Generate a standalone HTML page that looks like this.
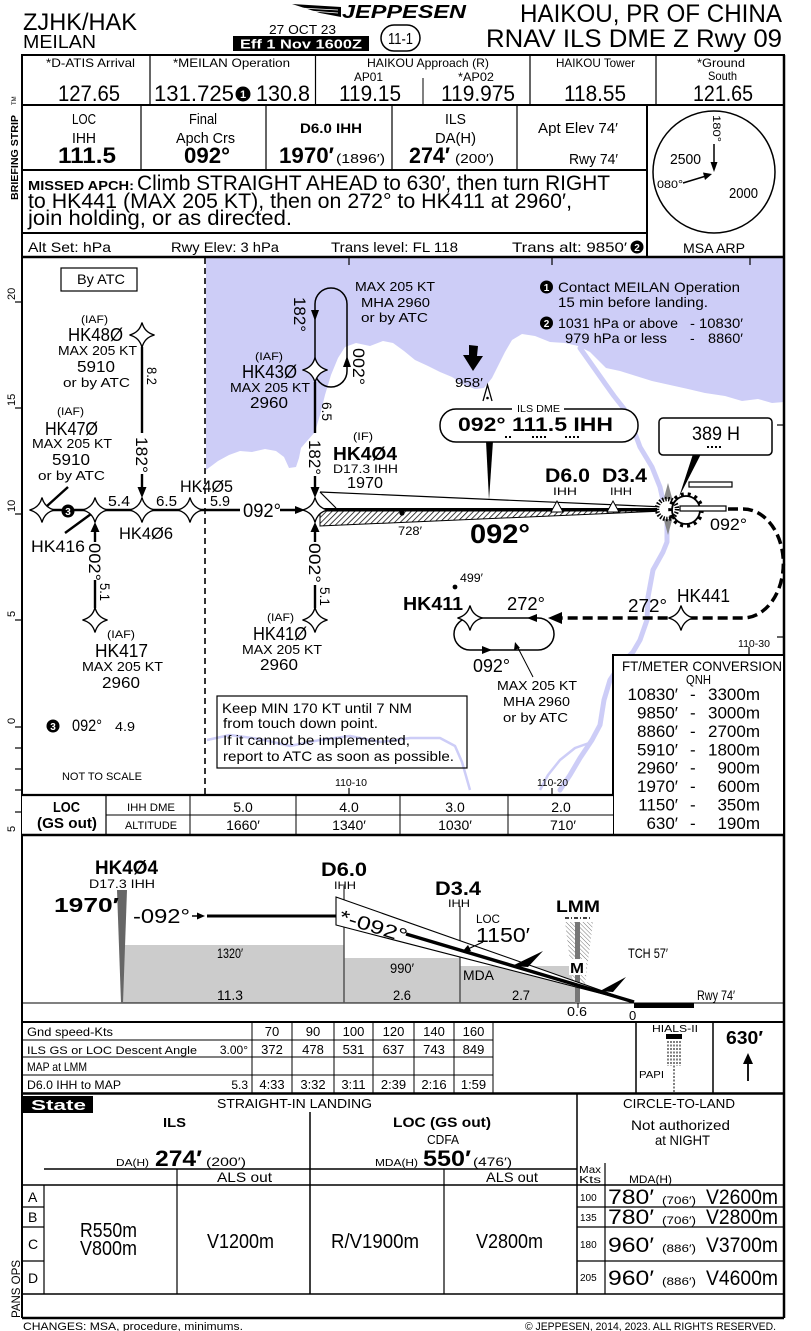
<!DOCTYPE html>
<html><head><meta charset="utf-8"><style>
html,body{margin:0;padding:0;background:#fff;}
svg{display:block;font-family:"Liberation Sans",sans-serif;}
.b{font-weight:bold;}
</style></head><body>
<svg width="811" height="1331" viewBox="0 0 811 1331" xmlns="http://www.w3.org/2000/svg">
<defs>
<pattern id="h" width="4" height="4" patternUnits="userSpaceOnUse" patternTransform="rotate(45)"><rect width="4" height="4" fill="#fff"/><line x1="0" y1="0" x2="0" y2="4" stroke="#000" stroke-width="1.5"/></pattern>
<pattern id="hg" width="3" height="3" patternUnits="userSpaceOnUse" patternTransform="rotate(-45)"><rect width="3" height="3" fill="#fff"/><line x1="0" y1="0" x2="0" y2="3" stroke="#777" stroke-width="1"/></pattern>
<path id="st" d="M0,-12.5 Q2.5,-2.5 12.5,0 Q2.5,2.5 0,12.5 Q-2.5,2.5 -12.5,0 Q-2.5,-2.5 0,-12.5Z" fill="#fff" stroke="#000" stroke-width="1.4"/>
</defs>

<!-- HEADER -->
<text x="23" y="30" font-size="24" textLength="114" lengthAdjust="spacingAndGlyphs">ZJHK/HAK</text>
<text x="23" y="48" font-size="18" textLength="73" lengthAdjust="spacingAndGlyphs">MEILAN</text>
<text x="269" y="34" font-size="13" textLength="67" lengthAdjust="spacingAndGlyphs">27 OCT 23</text>
<rect x="233" y="36" width="136" height="15" fill="#000"/>
<text x="240" y="48.5" font-size="12.5" class="b" fill="#fff" textLength="122" lengthAdjust="spacingAndGlyphs">Eff 1 Nov 1600Z</text>
<rect x="381" y="25" width="39" height="26" rx="13" fill="#fff" stroke="#000" stroke-width="1.5"/>
<text x="388" y="44" font-size="16" textLength="25" lengthAdjust="spacingAndGlyphs">11-1</text>
<polygon points="292,4 341,7 341,17 320,13" fill="#000"/>
<line x1="300" y1="8" x2="338" y2="10" stroke="#fff" stroke-width="0.8"/>
<line x1="310" y1="11" x2="338" y2="13" stroke="#fff" stroke-width="0.8"/>
<text x="342" y="18" font-size="18" class="b" font-style="italic" textLength="124" lengthAdjust="spacingAndGlyphs">JEPPESEN</text>
<text x="520" y="22" font-size="25" textLength="262" lengthAdjust="spacingAndGlyphs">HAIKOU, PR OF CHINA</text>
<text x="486" y="47" font-size="25" textLength="296" lengthAdjust="spacingAndGlyphs">RNAV ILS DME Z Rwy 09</text>

<!-- BRIEFING STRIP -->
<g stroke="#000" fill="none">
<rect x="22" y="55" width="762" height="202" stroke-width="2"/>
<line x1="22" y1="105" x2="784" y2="105" stroke-width="2"/>
<line x1="150" y1="55" x2="150" y2="105" stroke-width="1.2"/>
<line x1="315.5" y1="55" x2="315.5" y2="105" stroke-width="1.2"/>
<line x1="423" y1="78" x2="423" y2="105" stroke-width="1"/>
<line x1="530" y1="55" x2="530" y2="105" stroke-width="1.2"/>
<line x1="656" y1="55" x2="656" y2="105" stroke-width="1.2"/>
<line x1="22" y1="170" x2="647" y2="170" stroke-width="2"/>
<line x1="141" y1="105" x2="141" y2="170" stroke-width="1.2"/>
<line x1="266" y1="105" x2="266" y2="170" stroke-width="1.2"/>
<line x1="392" y1="105" x2="392" y2="170" stroke-width="1.2"/>
<line x1="517" y1="105" x2="517" y2="170" stroke-width="1.2"/>
<line x1="647" y1="105" x2="647" y2="257" stroke-width="2"/>
<line x1="22" y1="233" x2="647" y2="233" stroke-width="2"/>
</g>
<g font-size="12">
<text x="46" y="67" textLength="89" lengthAdjust="spacingAndGlyphs">*D-ATIS Arrival</text>
<text x="173" y="67" textLength="117" lengthAdjust="spacingAndGlyphs">*MEILAN Operation</text>
<text x="367" y="67" textLength="122" lengthAdjust="spacingAndGlyphs">HAIKOU Approach (R)</text>
<text x="354" y="81" textLength="29" lengthAdjust="spacingAndGlyphs">AP01</text>
<text x="458" y="81" textLength="36" lengthAdjust="spacingAndGlyphs">*AP02</text>
<text x="556" y="67" textLength="79" lengthAdjust="spacingAndGlyphs">HAIKOU Tower</text>
<text x="697" y="67" textLength="48" lengthAdjust="spacingAndGlyphs">*Ground</text>
<text x="708" y="80" textLength="29" lengthAdjust="spacingAndGlyphs">South</text>
</g>
<g font-size="22">
<text x="58" y="101" textLength="62" lengthAdjust="spacingAndGlyphs">127.65</text>
<text x="154" y="101" textLength="80" lengthAdjust="spacingAndGlyphs">131.725</text>
<text x="256" y="101" textLength="54" lengthAdjust="spacingAndGlyphs">130.8</text>
<text x="339" y="101" textLength="62" lengthAdjust="spacingAndGlyphs">119.15</text>
<text x="441" y="101" textLength="74" lengthAdjust="spacingAndGlyphs">119.975</text>
<text x="564" y="101" textLength="62" lengthAdjust="spacingAndGlyphs">118.55</text>
<text x="693" y="101" textLength="60" lengthAdjust="spacingAndGlyphs">121.65</text>
</g>
<circle cx="243" cy="94" r="7.5" fill="#000"/>
<text x="243" y="98" font-size="11" class="b" fill="#fff" text-anchor="middle">1</text>

<g font-size="15">
<text x="72" y="124" textLength="24" lengthAdjust="spacingAndGlyphs">LOC</text>
<text x="72" y="143" textLength="24" lengthAdjust="spacingAndGlyphs">IHH</text>
<text x="189" y="124" textLength="28" lengthAdjust="spacingAndGlyphs">Final</text>
<text x="176" y="143" textLength="59" lengthAdjust="spacingAndGlyphs">Apch Crs</text>
<text x="445" y="124" textLength="21" lengthAdjust="spacingAndGlyphs">ILS</text>
<text x="435" y="143" textLength="41" lengthAdjust="spacingAndGlyphs">DA(H)</text>
<text x="538" y="133" textLength="80" lengthAdjust="spacingAndGlyphs">Apt Elev 74′</text>
<text x="569" y="164" textLength="49" lengthAdjust="spacingAndGlyphs">Rwy 74′</text>
</g>
<text x="300" y="133" font-size="14" class="b" textLength="62" lengthAdjust="spacingAndGlyphs">D6.0 IHH</text>
<g font-size="22" class="b">
<text x="58" y="163" textLength="58" lengthAdjust="spacingAndGlyphs">111.5</text>
<text x="184" y="163" textLength="46" lengthAdjust="spacingAndGlyphs">092°</text>
<text x="279" y="163" textLength="55" lengthAdjust="spacingAndGlyphs">1970′</text>
<text x="409" y="163" textLength="41" lengthAdjust="spacingAndGlyphs">274′</text>
</g>
<text x="336" y="163" font-size="13" textLength="49" lengthAdjust="spacingAndGlyphs">(1896′)</text>
<text x="455" y="163" font-size="13" textLength="39" lengthAdjust="spacingAndGlyphs">(200′)</text>

<text x="28" y="190" font-size="13" class="b" textLength="106" lengthAdjust="spacingAndGlyphs">MISSED APCH:</text>
<text x="137" y="190" font-size="21" textLength="473" lengthAdjust="spacingAndGlyphs">Climb STRAIGHT AHEAD to 630′, then turn RIGHT</text>
<text x="28" y="208" font-size="21" textLength="544" lengthAdjust="spacingAndGlyphs">to HK441 (MAX 205 KT), then on 272° to HK411 at 2960′,</text>
<text x="28" y="225" font-size="21" textLength="264" lengthAdjust="spacingAndGlyphs">join holding, or as directed.</text>

<g font-size="14">
<text x="28" y="252" textLength="83" lengthAdjust="spacingAndGlyphs">Alt Set: hPa</text>
<text x="171" y="252" textLength="108" lengthAdjust="spacingAndGlyphs">Rwy Elev: 3 hPa</text>
<text x="331" y="252" textLength="127" lengthAdjust="spacingAndGlyphs">Trans level: FL 118</text>
<text x="512" y="252" textLength="115" lengthAdjust="spacingAndGlyphs">Trans alt: 9850′</text>
</g>
<circle cx="637" cy="247" r="6.5" fill="#000"/>
<text x="637" y="251" font-size="10" class="b" fill="#fff" text-anchor="middle">2</text>

<!-- MSA -->
<circle cx="714" cy="172" r="61" fill="none" stroke="#000" stroke-width="1.5"/>
<text transform="translate(713,115) rotate(90)" font-size="11" textLength="27" lengthAdjust="spacingAndGlyphs">180°</text>
<line x1="714" y1="144" x2="714" y2="164" stroke="#000" stroke-width="1.5"/>
<polygon points="710.5,162 717.5,162 714,172" fill="#000"/>
<line x1="683" y1="183" x2="706" y2="176" stroke="#000" stroke-width="1.5"/>
<polygon points="712,174 703,172.5 705,180" fill="#000"/>
<text x="657" y="188" font-size="11" textLength="26" lengthAdjust="spacingAndGlyphs">080°</text>
<text x="670" y="164" font-size="15" textLength="31" lengthAdjust="spacingAndGlyphs">2500</text>
<text x="729" y="198" font-size="15" textLength="29" lengthAdjust="spacingAndGlyphs">2000</text>
<text x="683" y="253" font-size="14" textLength="62" lengthAdjust="spacingAndGlyphs">MSA ARP</text>
<text transform="translate(18,200) rotate(-90)" font-size="10.5" class="b" textLength="85" lengthAdjust="spacingAndGlyphs">BRIEFING STRIP</text>
<text transform="translate(16,105) rotate(-90)" font-size="6">TM</text>

<!-- PLAN VIEW -->
<polygon fill="#cdcdf7" points="206,258 784,258 784,402 772,403 758,399 742,401 725,396 705,393 688,389 670,385 652,381 636,376 620,371 606,368 598,360 590,352 578,346 565,343 550,342 535,336 522,334 512,340 505,352 499,364 492,378 484,388 475,389 463,384 452,377 440,372 428,366 415,360 404,351 393,343 383,341 370,346 356,343 345,347 338,358 331,375 325,395 320,415 315,432 307,441 301,448 299,458 296,467 289,468 284,457 276,451 265,449 252,452 240,451 229,455 218,461 210,467 206,470"/>
<polyline fill="none" stroke="#cdcdf7" stroke-width="5" stroke-linejoin="round" stroke-linecap="round" points="580,348 592,365 604,382 614,396 625,410 633,428 640,447 652,467 660,487 664,505 667,522 667,542 663,552 653,570 648,597 647,620 640,640 633,652 620,665 610,680 604,700 600,725 592,740 580,758 570,775 560,790"/>
<polyline fill="none" stroke="#cdcdf7" stroke-width="2.5" stroke-linejoin="round" points="207,740 230,735 260,739 290,746 320,740 350,736 380,742 410,738 440,738 455,746 462,762 470,790"/>
<polyline fill="none" stroke="#cdcdf7" stroke-width="2.5" stroke-linejoin="round" points="592,742 575,748 560,760 548,775 540,790"/>

<!-- plan frame -->
<line x1="22" y1="257" x2="784" y2="257" stroke="#000" stroke-width="2.5"/>
<line x1="22" y1="55" x2="22" y2="1318" stroke="#000" stroke-width="2"/>
<line x1="784" y1="55" x2="784" y2="1318" stroke="#000" stroke-width="2.5"/>
<line x1="205" y1="258" x2="205" y2="795" stroke="#000" stroke-width="1.6" stroke-dasharray="6,4"/>
<g stroke="#000" stroke-width="1.2">
<line x1="349" y1="258" x2="349" y2="265"/><line x1="552" y1="258" x2="552" y2="265"/><line x1="750" y1="258" x2="750" y2="265"/>
<line x1="777" y1="425" x2="784" y2="425"/><line x1="777" y1="637" x2="784" y2="637"/>
<line x1="349" y1="788" x2="349" y2="795"/><line x1="552" y1="788" x2="552" y2="795"/><line x1="749" y1="647" x2="749" y2="655"/>
<line x1="15" y1="302" x2="22" y2="302"/><line x1="15" y1="408" x2="22" y2="408"/><line x1="15" y1="514" x2="22" y2="514"/><line x1="15" y1="620" x2="22" y2="620"/><line x1="15" y1="727" x2="22" y2="727"/>
<line x1="15" y1="748" x2="22" y2="748"/><line x1="15" y1="769" x2="22" y2="769"/><line x1="15" y1="790" x2="22" y2="790"/><line x1="15" y1="812" x2="22" y2="812"/>
</g>
<g font-size="11">
<text transform="translate(15,300) rotate(-90)">20</text>
<text transform="translate(15,406) rotate(-90)">15</text>
<text transform="translate(15,512) rotate(-90)">10</text>
<text transform="translate(15,617) rotate(-90)">5</text>
<text transform="translate(15,724) rotate(-90)">0</text>
<text transform="translate(15,832) rotate(-90)">5</text>
</g>
<g font-size="10">
<text x="335" y="786" textLength="32" lengthAdjust="spacingAndGlyphs">110-10</text>
<text x="537" y="786" textLength="31" lengthAdjust="spacingAndGlyphs">110-20</text>
<text x="738" y="647" textLength="32" lengthAdjust="spacingAndGlyphs">110-30</text>
</g>

<!-- By ATC -->
<rect x="61" y="268" width="76" height="23" fill="#fff" stroke="#000" stroke-width="1.2"/>
<text x="77" y="284" font-size="14" textLength="48" lengthAdjust="spacingAndGlyphs">By ATC</text>

<!-- left tracks -->
<line x1="42" y1="510" x2="240" y2="510" stroke="#000" stroke-width="2.4"/>
<line x1="280" y1="510" x2="298" y2="510" stroke="#000" stroke-width="2.4"/>
<polygon points="305,510 295,506 295,514" fill="#000"/>
<text x="243" y="517" font-size="19" textLength="38" lengthAdjust="spacingAndGlyphs">092°</text>
<g font-size="15">
<text x="108" y="506" textLength="22" lengthAdjust="spacingAndGlyphs">5.4</text>
<text x="156" y="506" textLength="21" lengthAdjust="spacingAndGlyphs">6.5</text>
<text x="210" y="506" textLength="20" lengthAdjust="spacingAndGlyphs">5.9</text>
</g>
<line x1="68" y1="487" x2="47" y2="506" stroke="#000" stroke-width="2.4"/>
<line x1="65" y1="533" x2="91" y2="514" stroke="#000" stroke-width="2.4"/>
<use href="#st" x="42" y="510"/>
<use href="#st" x="95" y="510"/>
<use href="#st" x="142" y="510"/>
<use href="#st" x="190" y="510"/>
<circle cx="68" cy="511" r="6.5" fill="#000"/>
<text x="68" y="515" font-size="10" class="b" fill="#fff" text-anchor="middle">3</text>

<!-- HK480 -->
<line x1="142" y1="347" x2="142" y2="433" stroke="#000" stroke-width="2.4"/>
<use href="#st" x="142" y="335"/>
<text transform="translate(147,367) rotate(90)" font-size="14" textLength="18" lengthAdjust="spacingAndGlyphs">8.2</text>
<text transform="translate(136,437) rotate(90)" font-size="17" textLength="36" lengthAdjust="spacingAndGlyphs">182°</text>
<line x1="142" y1="474" x2="142" y2="490" stroke="#000" stroke-width="2.4"/>
<polygon points="137.5,487 146.5,487 142,498" fill="#000"/>
<text x="81" y="323" font-size="11" textLength="27" lengthAdjust="spacingAndGlyphs">(IAF)</text>
<text x="68" y="341" font-size="18" textLength="55" lengthAdjust="spacingAndGlyphs">HK48Ø</text>
<text x="58" y="355" font-size="13" textLength="79" lengthAdjust="spacingAndGlyphs">MAX 205 KT</text>
<text x="77" y="372" font-size="16" textLength="38" lengthAdjust="spacingAndGlyphs">5910</text>
<text x="63" y="387" font-size="13" textLength="67" lengthAdjust="spacingAndGlyphs">or by ATC</text>
<!-- HK470 -->
<text x="57" y="415" font-size="11" textLength="27" lengthAdjust="spacingAndGlyphs">(IAF)</text>
<text x="45" y="435" font-size="18" textLength="53" lengthAdjust="spacingAndGlyphs">HK47Ø</text>
<text x="32" y="448" font-size="13" textLength="80" lengthAdjust="spacingAndGlyphs">MAX 205 KT</text>
<text x="52" y="465" font-size="16" textLength="38" lengthAdjust="spacingAndGlyphs">5910</text>
<text x="38" y="480" font-size="13" textLength="67" lengthAdjust="spacingAndGlyphs">or by ATC</text>
<text x="180" y="492" font-size="17" textLength="53" lengthAdjust="spacingAndGlyphs">HK4Ø5</text>
<text x="119" y="539" font-size="17" textLength="54" lengthAdjust="spacingAndGlyphs">HK4Ø6</text>
<text x="31" y="552" font-size="17" textLength="54" lengthAdjust="spacingAndGlyphs">HK416</text>

<!-- HK417 -->
<line x1="95" y1="528" x2="95" y2="542" stroke="#000" stroke-width="2.4"/>
<polygon points="90.5,532 99.5,532 95,522" fill="#000"/>
<text transform="translate(89,543) rotate(90)" font-size="17" textLength="38" lengthAdjust="spacingAndGlyphs">002°</text>
<line x1="95" y1="580" x2="95" y2="608" stroke="#000" stroke-width="2.4"/>
<text transform="translate(100,583) rotate(90)" font-size="14" textLength="18" lengthAdjust="spacingAndGlyphs">5.1</text>
<use href="#st" x="95" y="620"/>
<text x="107" y="638" font-size="11" textLength="28" lengthAdjust="spacingAndGlyphs">(IAF)</text>
<text x="95" y="657" font-size="18" textLength="53" lengthAdjust="spacingAndGlyphs">HK417</text>
<text x="82" y="671" font-size="13" textLength="81" lengthAdjust="spacingAndGlyphs">MAX 205 KT</text>
<text x="102" y="688" font-size="16" textLength="38" lengthAdjust="spacingAndGlyphs">2960</text>
<circle cx="53" cy="726" r="6.5" fill="#000"/>
<text x="53" y="730" font-size="10" class="b" fill="#fff" text-anchor="middle">3</text>
<text x="72" y="731" font-size="17" textLength="30" lengthAdjust="spacingAndGlyphs">092°</text>
<text x="115" y="731" font-size="13" textLength="20" lengthAdjust="spacingAndGlyphs">4.9</text>
<text x="62" y="780" font-size="11" textLength="80" lengthAdjust="spacingAndGlyphs">NOT TO SCALE</text>

<!-- HK430 hold -->
<path d="M315,304 A16,16 0 0 1 347,304 L347,371 A16,16 0 0 1 315,371 Z" fill="none" stroke="#000" stroke-width="1.5"/>
<polygon points="311,310 319,310 315,321" fill="#000"/>
<polygon points="343,367 351,367 347,356" fill="#000"/>
<text transform="translate(294,297) rotate(90)" font-size="17" textLength="35" lengthAdjust="spacingAndGlyphs">182°</text>
<text transform="translate(353,348) rotate(90)" font-size="17" textLength="37" lengthAdjust="spacingAndGlyphs">002°</text>
<text x="355" y="291" font-size="13" textLength="80" lengthAdjust="spacingAndGlyphs">MAX 205 KT</text>
<text x="361" y="307" font-size="13" textLength="69" lengthAdjust="spacingAndGlyphs">MHA 2960</text>
<text x="361" y="322" font-size="13" textLength="67" lengthAdjust="spacingAndGlyphs">or by ATC</text>
<line x1="315" y1="382" x2="315" y2="433" stroke="#000" stroke-width="2.4"/>
<use href="#st" x="315" y="370"/>
<text transform="translate(322,402) rotate(90)" font-size="14" textLength="19" lengthAdjust="spacingAndGlyphs">6.5</text>
<text transform="translate(309,440) rotate(90)" font-size="17" textLength="35" lengthAdjust="spacingAndGlyphs">182°</text>
<line x1="315" y1="476" x2="315" y2="490" stroke="#000" stroke-width="2.4"/>
<polygon points="310.5,487 319.5,487 315,498" fill="#000"/>
<text x="255" y="360" font-size="11" textLength="28" lengthAdjust="spacingAndGlyphs">(IAF)</text>
<text x="242" y="378" font-size="18" textLength="55" lengthAdjust="spacingAndGlyphs">HK43Ø</text>
<text x="230" y="392" font-size="13" textLength="80" lengthAdjust="spacingAndGlyphs">MAX 205 KT</text>
<text x="250" y="408" font-size="16" textLength="38" lengthAdjust="spacingAndGlyphs">2960</text>

<!-- HK404 / localizer -->
<polygon points="320,511 665,511 320,526" fill="url(#h)" stroke="#000" stroke-width="1"/>
<line x1="320" y1="492" x2="665" y2="507" stroke="#000" stroke-width="1.2"/>
<line x1="320" y1="492" x2="336" y2="508" stroke="#000" stroke-width="1.2"/>
<line x1="320" y1="509.5" x2="665" y2="509.5" stroke="#000" stroke-width="3"/>
<polygon points="551,512 563,512 557,501" fill="#fff" stroke="#000" stroke-width="1"/>
<polygon points="607,512 619,512 613,501" fill="#fff" stroke="#000" stroke-width="1"/>
<circle cx="402" cy="513" r="2.6" fill="#000"/>
<text x="398" y="535" font-size="12" textLength="24" lengthAdjust="spacingAndGlyphs">728′</text>
<text x="470" y="543" font-size="27" class="b" textLength="60" lengthAdjust="spacingAndGlyphs">092°</text>
<use href="#st" x="315" y="510"/>
<text x="353" y="440" font-size="11" textLength="20" lengthAdjust="spacingAndGlyphs">(IF)</text>
<text x="333" y="460" font-size="18" class="b" textLength="64" lengthAdjust="spacingAndGlyphs">HK4Ø4</text>
<text x="333" y="473" font-size="12" textLength="65" lengthAdjust="spacingAndGlyphs">D17.3 IHH</text>
<text x="347" y="488" font-size="16" textLength="36" lengthAdjust="spacingAndGlyphs">1970</text>
<text x="545" y="482" font-size="19" class="b" textLength="45" lengthAdjust="spacingAndGlyphs">D6.0</text>
<text x="553" y="495" font-size="11" textLength="24" lengthAdjust="spacingAndGlyphs">IHH</text>
<text x="602" y="482" font-size="19" class="b" textLength="45" lengthAdjust="spacingAndGlyphs">D3.4</text>
<text x="610" y="495" font-size="11" textLength="22" lengthAdjust="spacingAndGlyphs">IHH</text>

<!-- HK410 -->
<line x1="315" y1="528" x2="315" y2="542" stroke="#000" stroke-width="2.4"/>
<polygon points="310.5,532 319.5,532 315,522" fill="#000"/>
<text transform="translate(309,543) rotate(90)" font-size="17" textLength="40" lengthAdjust="spacingAndGlyphs">002°</text>
<line x1="315" y1="585" x2="315" y2="608" stroke="#000" stroke-width="2.4"/>
<text transform="translate(320,587) rotate(90)" font-size="14" textLength="19" lengthAdjust="spacingAndGlyphs">5.1</text>
<use href="#st" x="315" y="620"/>
<text x="267" y="621" font-size="11" textLength="27" lengthAdjust="spacingAndGlyphs">(IAF)</text>
<text x="253" y="640" font-size="18" textLength="54" lengthAdjust="spacingAndGlyphs">HK41Ø</text>
<text x="242" y="654" font-size="13" textLength="80" lengthAdjust="spacingAndGlyphs">MAX 205 KT</text>
<text x="260" y="670" font-size="16" textLength="38" lengthAdjust="spacingAndGlyphs">2960</text>

<!-- Keep MIN box -->
<rect x="217" y="696" width="250" height="72" fill="none" stroke="#000" stroke-width="1.2"/>
<g font-size="14">
<text x="222" y="713" textLength="190" lengthAdjust="spacingAndGlyphs">Keep MIN 170 KT until 7 NM</text>
<text x="223" y="728" textLength="155" lengthAdjust="spacingAndGlyphs">from touch down point.</text>
<text x="223" y="745" textLength="187" lengthAdjust="spacingAndGlyphs">If it cannot be implemented,</text>
<text x="223" y="761" textLength="231" lengthAdjust="spacingAndGlyphs">report to ATC as soon as possible.</text>
</g>

<!-- notes -->
<circle cx="546.5" cy="287" r="6.5" fill="#000"/>
<text x="546.5" y="291" font-size="10" class="b" fill="#fff" text-anchor="middle">1</text>
<text x="558" y="292" font-size="14" textLength="182" lengthAdjust="spacingAndGlyphs">Contact MEILAN Operation</text>
<text x="558" y="307" font-size="14" textLength="150" lengthAdjust="spacingAndGlyphs">15 min before landing.</text>
<circle cx="546.5" cy="323" r="6.5" fill="#000"/>
<text x="546.5" y="327" font-size="10" class="b" fill="#fff" text-anchor="middle">2</text>
<text x="558" y="328" font-size="14" textLength="120" lengthAdjust="spacingAndGlyphs">1031 hPa or above</text>
<text x="690" y="328" font-size="14" textLength="53" lengthAdjust="spacingAndGlyphs">- 10830′</text>
<text x="565" y="343" font-size="14" textLength="102" lengthAdjust="spacingAndGlyphs">979 hPa or less</text>
<text x="690" y="343" font-size="14">-</text>
<text x="708" y="343" font-size="14" textLength="35" lengthAdjust="spacingAndGlyphs">8860′</text>

<!-- 958 obstacle -->
<polygon points="469,345 478,346 477,356 483,356 473,371 463,355 469,355" fill="#000"/>
<text x="455" y="387" font-size="13" textLength="28" lengthAdjust="spacingAndGlyphs">958′</text>
<polyline points="483,401 487.5,385 492,401" fill="none" stroke="#000" stroke-width="1.3"/>
<circle cx="487.5" cy="398" r="1.3" fill="#000"/>

<!-- ILS DME box -->
<polygon points="486,441 493,441 489,500" fill="#000"/>
<rect x="440" y="409" width="198" height="33" rx="16" fill="#fff" stroke="#000" stroke-width="1.5"/>
<rect x="512" y="404" width="52" height="9" fill="#fff"/>
<text x="517" y="412" font-size="10" textLength="43" lengthAdjust="spacingAndGlyphs">ILS DME</text>
<text x="458" y="431" font-size="19" class="b" textLength="155" lengthAdjust="spacingAndGlyphs">092°  111.5 IHH</text>
<g fill="#000">
<rect x="505" y="436" width="2" height="2"/><rect x="509" y="436" width="2" height="2"/>
<rect x="532" y="436" width="2" height="2"/><rect x="536" y="436" width="2" height="2"/><rect x="540" y="436" width="2" height="2"/><rect x="544" y="436" width="2" height="2"/>
<rect x="565" y="436" width="2" height="2"/><rect x="569" y="436" width="2" height="2"/><rect x="573" y="436" width="2" height="2"/><rect x="577" y="436" width="2" height="2"/>
</g>

<!-- 389 H box -->
<polygon points="693,454 701,454 679,497" fill="#000"/>
<rect x="659" y="418" width="113" height="37" rx="4" fill="#fff" stroke="#000" stroke-width="1.5"/>
<text x="692" y="440" font-size="19" textLength="48" lengthAdjust="spacingAndGlyphs">389 H</text>
<g fill="#000">
<rect x="707" y="446" width="2" height="2"/><rect x="711" y="446" width="2" height="2"/><rect x="715" y="446" width="2" height="2"/><rect x="719" y="446" width="2" height="2"/>
</g>

<!-- airport -->
<polygon points="668,483 675,509 668,535 661,509" fill="#888"/>
<circle cx="667" cy="509" r="10" fill="#fff" stroke="#000" stroke-width="4.5" stroke-dasharray="1.5,1.5"/>
<circle cx="667" cy="509" r="6" fill="#fff" stroke="none"/>
<circle cx="686" cy="510" r="16" fill="none" stroke="#000" stroke-width="3.5" stroke-dasharray="3,4"/>
<circle cx="686" cy="510" r="14" fill="none" stroke="#000" stroke-width="1.8"/>
<rect x="680" y="506" width="46" height="5" fill="#fff" stroke="#000" stroke-width="1.2"/>
<rect x="689" y="482" width="43" height="5" fill="#fff" stroke="#000" stroke-width="1.2"/>
<text x="710" y="530" font-size="17" textLength="37" lengthAdjust="spacingAndGlyphs">092°</text>

<!-- missed approach -->
<path d="M728,509 L743,509 A40,54 0 0 1 743,618 L562,618" fill="none" stroke="#000" stroke-width="3.5" stroke-dasharray="10,5"/>
<polygon points="548,618 562,612 562,624" fill="#000"/>
<path d="M470,618 L538,618 A16,16 0 0 1 538,650 L470,650 A16,16 0 0 1 470,618 Z" fill="none" stroke="#000" stroke-width="1.5"/>
<polygon points="527,618 537,614 537,622" fill="#000"/>
<polygon points="492,650 482,646 482,654" fill="#000"/>
<use href="#st" x="470" y="618"/>
<use href="#st" x="681" y="618"/>
<circle cx="455" cy="587" r="2.4" fill="#000"/>
<text x="460" y="582" font-size="12" textLength="23" lengthAdjust="spacingAndGlyphs">499′</text>
<text x="403" y="610" font-size="18" class="b" textLength="60" lengthAdjust="spacingAndGlyphs">HK411</text>
<text x="507" y="610" font-size="18" textLength="38" lengthAdjust="spacingAndGlyphs">272°</text>
<text x="628" y="612" font-size="18" textLength="39" lengthAdjust="spacingAndGlyphs">272°</text>
<text x="677" y="602" font-size="18" textLength="53" lengthAdjust="spacingAndGlyphs">HK441</text>
<text x="473" y="672" font-size="18" textLength="37" lengthAdjust="spacingAndGlyphs">092°</text>
<line x1="533" y1="677" x2="517" y2="646" stroke="#000" stroke-width="1"/>
<polygon points="515,642 514,650 520,648" fill="#000"/>
<text x="497" y="690" font-size="13" textLength="80" lengthAdjust="spacingAndGlyphs">MAX 205 KT</text>
<text x="503" y="706" font-size="13" textLength="67" lengthAdjust="spacingAndGlyphs">MHA 2960</text>
<text x="503" y="722" font-size="13" textLength="65" lengthAdjust="spacingAndGlyphs">or by ATC</text>

<!-- FT/METER conversion -->
<rect x="613" y="655" width="171" height="180" fill="#fff" stroke="#000" stroke-width="2"/>
<text x="622" y="671" font-size="14" textLength="160" lengthAdjust="spacingAndGlyphs">FT/METER CONVERSION</text>
<text x="686" y="684" font-size="13" textLength="25" lengthAdjust="spacingAndGlyphs">QNH</text>
<g font-size="17">
<text x="678" y="700" text-anchor="end">10830′</text><text x="690" y="700">-</text><text x="760" y="700" text-anchor="end">3300m</text>
<text x="678" y="718.4" text-anchor="end">9850′</text><text x="690" y="718.4">-</text><text x="760" y="718.4" text-anchor="end">3000m</text>
<text x="678" y="736.9" text-anchor="end">8860′</text><text x="690" y="736.9">-</text><text x="760" y="736.9" text-anchor="end">2700m</text>
<text x="678" y="755.3" text-anchor="end">5910′</text><text x="690" y="755.3">-</text><text x="760" y="755.3" text-anchor="end">1800m</text>
<text x="678" y="773.7" text-anchor="end">2960′</text><text x="690" y="773.7">-</text><text x="760" y="773.7" text-anchor="end">900m</text>
<text x="678" y="792.1" text-anchor="end">1970′</text><text x="690" y="792.1">-</text><text x="760" y="792.1" text-anchor="end">600m</text>
<text x="678" y="810.6" text-anchor="end">1150′</text><text x="690" y="810.6">-</text><text x="760" y="810.6" text-anchor="end">350m</text>
<text x="678" y="829" text-anchor="end">630′</text><text x="690" y="829">-</text><text x="760" y="829" text-anchor="end">190m</text>
</g>

<!-- LOC table -->
<rect x="22" y="795" width="591" height="40" fill="#fff" stroke="none"/>
<g stroke="#000" fill="none">
<line x1="22" y1="795" x2="613" y2="795" stroke-width="2.2"/>
<line x1="106" y1="815" x2="613" y2="815" stroke-width="1"/>
<line x1="106" y1="795" x2="106" y2="835" stroke-width="1.2"/>
<line x1="190" y1="795" x2="190" y2="835" stroke-width="1"/>
<line x1="296" y1="795" x2="296" y2="835" stroke-width="1"/>
<line x1="400" y1="795" x2="400" y2="835" stroke-width="1"/>
<line x1="508" y1="795" x2="508" y2="835" stroke-width="1"/>
<line x1="22" y1="835" x2="784" y2="835" stroke-width="2.5"/>
</g>
<text x="53" y="812" font-size="15" class="b" textLength="27" lengthAdjust="spacingAndGlyphs">LOC</text>
<text x="37" y="828" font-size="15" class="b" textLength="60" lengthAdjust="spacingAndGlyphs">(GS out)</text>
<text x="127" y="811" font-size="11" textLength="48" lengthAdjust="spacingAndGlyphs">IHH DME</text>
<text x="125" y="829" font-size="11" textLength="52" lengthAdjust="spacingAndGlyphs">ALTITUDE</text>
<g font-size="14" text-anchor="middle">
<text x="243" y="812">5.0</text><text x="243" y="830">1660′</text>
<text x="349" y="812">4.0</text><text x="349" y="830">1340′</text>
<text x="455" y="812">3.0</text><text x="455" y="830">1030′</text>
<text x="561" y="812">2.0</text><text x="563" y="830">710′</text>
</g>

<!-- PROFILE -->
<rect x="122" y="945" width="222" height="58" fill="#cccccc"/>
<rect x="344" y="958" width="116" height="45" fill="#cccccc"/>
<rect x="460" y="966" width="118" height="37" fill="#cccccc"/>
<line x1="22" y1="1003" x2="784" y2="1003" stroke="#000" stroke-width="1"/>
<polygon points="117,890 127,890 123,1003 121,1003" fill="#666"/>
<line x1="344" y1="886" x2="344" y2="1003" stroke="#555" stroke-width="1.5"/>
<line x1="460" y1="906" x2="460" y2="1003" stroke="#555" stroke-width="1.5"/>
<polygon points="565,922 593,922 585,985 573,985" fill="url(#hg)"/>
<rect x="575" y="922" width="5" height="81" fill="#777"/>
<line x1="565" y1="918" x2="591" y2="918" stroke="#000" stroke-width="1.5" stroke-dasharray="4,2,1,2"/>
<rect x="569" y="959" width="17" height="16" fill="#fff"/>
<text x="570" y="973" font-size="15" class="b" textLength="14" lengthAdjust="spacingAndGlyphs">M</text>
<line x1="578" y1="1003" x2="578" y2="1008" stroke="#000" stroke-width="1"/>
<polygon points="336,897 634,1002 336,925" fill="#fff" stroke="#000" stroke-width="1.1"/>
<line x1="406" y1="934" x2="634" y2="1002" stroke="#000" stroke-width="3.5"/>
<line x1="207" y1="916" x2="336" y2="916" stroke="#000" stroke-width="3"/>
<text transform="translate(338,922) rotate(17)" font-size="19" textLength="70" lengthAdjust="spacingAndGlyphs">*-092°</text>
<polygon points="512,966 543,951 528,967" fill="#000"/>
<polygon points="600,991 626,977 613,992" fill="#000"/>
<rect x="634" y="1003" width="60" height="5" fill="#000"/>
<text x="95" y="874" font-size="19" class="b" textLength="63" lengthAdjust="spacingAndGlyphs">HK4Ø4</text>
<text x="89" y="888" font-size="12" textLength="66" lengthAdjust="spacingAndGlyphs">D17.3 IHH</text>
<text x="54" y="912" font-size="20" class="b" textLength="65" lengthAdjust="spacingAndGlyphs">1970′</text>
<text x="133" y="923" font-size="20" textLength="57" lengthAdjust="spacingAndGlyphs">-092°</text>
<line x1="192" y1="916" x2="200" y2="916" stroke="#000" stroke-width="1.5"/>
<polygon points="205,916 197,912.5 197,919.5" fill="#000"/>
<text x="321" y="876" font-size="19" class="b" textLength="46" lengthAdjust="spacingAndGlyphs">D6.0</text>
<text x="334" y="889" font-size="11" textLength="22" lengthAdjust="spacingAndGlyphs">IHH</text>
<text x="435" y="895" font-size="19" class="b" textLength="46" lengthAdjust="spacingAndGlyphs">D3.4</text>
<text x="448" y="907" font-size="11" textLength="22" lengthAdjust="spacingAndGlyphs">IHH</text>
<text x="476" y="923" font-size="12" textLength="24" lengthAdjust="spacingAndGlyphs">LOC</text>
<text x="476" y="942" font-size="20" textLength="54" lengthAdjust="spacingAndGlyphs">1150′</text>
<line x1="483" y1="942" x2="468" y2="949" stroke="#000" stroke-width="1.2"/>
<polygon points="462,952 468,945 471,951" fill="#000"/>
<text x="556" y="912" font-size="17" class="b" textLength="44" lengthAdjust="spacingAndGlyphs">LMM</text>
<text x="628" y="958" font-size="14" textLength="40" lengthAdjust="spacingAndGlyphs">TCH 57′</text>
<text x="697" y="1000" font-size="14" textLength="38" lengthAdjust="spacingAndGlyphs">Rwy 74′</text>
<g font-size="14">
<text x="217" y="958" textLength="26" lengthAdjust="spacingAndGlyphs">1320′</text>
<text x="217" y="1000" textLength="26" lengthAdjust="spacingAndGlyphs">11.3</text>
<text x="390" y="973" textLength="24" lengthAdjust="spacingAndGlyphs">990′</text>
<text x="393" y="1000" textLength="18" lengthAdjust="spacingAndGlyphs">2.6</text>
<text x="463" y="980" textLength="31" lengthAdjust="spacingAndGlyphs">MDA</text>
<text x="512" y="1000" textLength="18" lengthAdjust="spacingAndGlyphs">2.7</text>
</g>
<text x="567" y="1016" font-size="13" textLength="20" lengthAdjust="spacingAndGlyphs">0.6</text>
<text x="629" y="1020" font-size="13">0</text>

<!-- Ground speed table -->
<g stroke="#000" fill="none">
<line x1="22" y1="1022" x2="784" y2="1022" stroke-width="2"/>
<line x1="22" y1="1040" x2="493" y2="1040" stroke-width="1"/>
<line x1="22" y1="1057" x2="493" y2="1057" stroke-width="1"/>
<line x1="22" y1="1075" x2="493" y2="1075" stroke-width="1"/>
<line x1="252" y1="1022" x2="252" y2="1093" stroke-width="1"/>
<line x1="292" y1="1022" x2="292" y2="1093" stroke-width="1"/>
<line x1="334" y1="1022" x2="334" y2="1093" stroke-width="1"/>
<line x1="373" y1="1022" x2="373" y2="1093" stroke-width="1"/>
<line x1="414" y1="1022" x2="414" y2="1093" stroke-width="1"/>
<line x1="454" y1="1022" x2="454" y2="1093" stroke-width="1"/>
<line x1="493" y1="1022" x2="493" y2="1093" stroke-width="1"/>
<line x1="636" y1="1022" x2="636" y2="1093" stroke-width="1.5"/>
<line x1="713" y1="1022" x2="713" y2="1093" stroke-width="1.5"/>
<line x1="22" y1="1093.5" x2="784" y2="1093.5" stroke-width="2.5"/>
</g>
<g font-size="12">
<text x="27" y="1036" textLength="86" lengthAdjust="spacingAndGlyphs">Gnd speed-Kts</text>
<text x="27" y="1054" font-size="11" textLength="170" lengthAdjust="spacingAndGlyphs">ILS GS  or  LOC Descent Angle</text>
<text x="248" y="1054" text-anchor="end">3.00°</text>
<text x="27" y="1071" textLength="60" lengthAdjust="spacingAndGlyphs">MAP at LMM</text>
<text x="27" y="1089" textLength="94" lengthAdjust="spacingAndGlyphs">D6.0 IHH to MAP</text>
<text x="248" y="1089" text-anchor="end">5.3</text>
</g>
<g font-size="13" text-anchor="middle">
<text x="272" y="1036">70</text><text x="313" y="1036">90</text><text x="353.5" y="1036">100</text><text x="393.5" y="1036">120</text><text x="434" y="1036">140</text><text x="473.5" y="1036">160</text>
<text x="272" y="1054">372</text><text x="313" y="1054">478</text><text x="353.5" y="1054">531</text><text x="393.5" y="1054">637</text><text x="434" y="1054">743</text><text x="473.5" y="1054">849</text>
<text x="272" y="1089">4:33</text><text x="313" y="1089">3:32</text><text x="353.5" y="1089">3:11</text><text x="393.5" y="1089">2:39</text><text x="434" y="1089">2:16</text><text x="473.5" y="1089">1:59</text>
</g>
<text x="652" y="1032" font-size="10" textLength="46" lengthAdjust="spacingAndGlyphs">HIALS-II</text>
<rect x="666" y="1034" width="16" height="5" fill="#000"/>
<g stroke="#000" stroke-width="1" stroke-dasharray="2,1.5">
<line x1="668" y1="1041" x2="668" y2="1066"/><line x1="671" y1="1041" x2="671" y2="1066"/><line x1="674" y1="1041" x2="674" y2="1092"/><line x1="677" y1="1041" x2="677" y2="1066"/><line x1="680" y1="1041" x2="680" y2="1066"/>
</g>
<text x="639" y="1078" font-size="10" textLength="25" lengthAdjust="spacingAndGlyphs">PAPI</text>
<text x="726" y="1044" font-size="18" class="b" textLength="37" lengthAdjust="spacingAndGlyphs">630′</text>
<line x1="748" y1="1062" x2="748" y2="1081" stroke="#000" stroke-width="1.8"/>
<polygon points="743,1064 753,1064 748,1053" fill="#000"/>

<!-- MINIMUMS -->
<rect x="23" y="1096" width="70" height="17" fill="#000"/>
<text x="31" y="1110" font-size="15" class="b" fill="#fff" textLength="55" lengthAdjust="spacingAndGlyphs">State</text>
<text x="217" y="1108" font-size="13" textLength="155" lengthAdjust="spacingAndGlyphs">STRAIGHT-IN LANDING</text>
<text x="623" y="1108" font-size="13" textLength="112" lengthAdjust="spacingAndGlyphs">CIRCLE-TO-LAND</text>
<g stroke="#000" fill="none">
<line x1="577" y1="1094" x2="577" y2="1294" stroke-width="1.5"/>
<line x1="310" y1="1112" x2="310" y2="1294" stroke-width="1.5"/>
<line x1="44" y1="1169" x2="577" y2="1169" stroke-width="1.5"/>
<line x1="177" y1="1169" x2="177" y2="1294" stroke-width="1.2"/>
<line x1="444" y1="1169" x2="444" y2="1294" stroke-width="1.2"/>
<line x1="22" y1="1185" x2="784" y2="1185" stroke-width="1.5"/>
<line x1="44" y1="1185" x2="44" y2="1294" stroke-width="1.2"/>
<line x1="605" y1="1163" x2="605" y2="1294" stroke-width="1.2"/>
<line x1="22" y1="1207" x2="44" y2="1207" stroke-width="1.2"/><line x1="577" y1="1207" x2="784" y2="1207" stroke-width="1.2"/>
<line x1="22" y1="1227" x2="44" y2="1227" stroke-width="1.2"/><line x1="577" y1="1227" x2="784" y2="1227" stroke-width="1.2"/>
<line x1="22" y1="1261" x2="44" y2="1261" stroke-width="1.2"/><line x1="577" y1="1261" x2="784" y2="1261" stroke-width="1.2"/>
<line x1="22" y1="1294" x2="784" y2="1294" stroke-width="1.5"/>
<line x1="22" y1="1318" x2="784" y2="1318" stroke-width="2.5"/>
</g>
<text x="163" y="1127" font-size="13" class="b" textLength="23" lengthAdjust="spacingAndGlyphs">ILS</text>
<text x="393" y="1127" font-size="14" class="b" textLength="98" lengthAdjust="spacingAndGlyphs">LOC (GS out)</text>
<text x="427" y="1144" font-size="13" textLength="32" lengthAdjust="spacingAndGlyphs">CDFA</text>
<text x="116" y="1166" font-size="10" textLength="33" lengthAdjust="spacingAndGlyphs">DA(H)</text>
<text x="155" y="1166" font-size="22" class="b" textLength="47" lengthAdjust="spacingAndGlyphs">274′</text>
<text x="206" y="1166" font-size="12" textLength="40" lengthAdjust="spacingAndGlyphs">(200′)</text>
<text x="375" y="1166" font-size="10" textLength="43" lengthAdjust="spacingAndGlyphs">MDA(H)</text>
<text x="423" y="1166" font-size="22" class="b" textLength="48" lengthAdjust="spacingAndGlyphs">550′</text>
<text x="473" y="1166" font-size="12" textLength="39" lengthAdjust="spacingAndGlyphs">(476′)</text>
<text x="217" y="1182" font-size="14" textLength="55" lengthAdjust="spacingAndGlyphs">ALS out</text>
<text x="486" y="1182" font-size="14" textLength="52" lengthAdjust="spacingAndGlyphs">ALS out</text>
<g font-size="14">
<text x="28" y="1202">A</text><text x="28" y="1222">B</text><text x="28" y="1249">C</text><text x="28" y="1283">D</text>
</g>
<g font-size="20">
<text x="80" y="1237" textLength="57" lengthAdjust="spacingAndGlyphs">R550m</text>
<text x="80" y="1255" textLength="57" lengthAdjust="spacingAndGlyphs">V800m</text>
<text x="207" y="1248" textLength="67" lengthAdjust="spacingAndGlyphs">V1200m</text>
<text x="331" y="1248" textLength="88" lengthAdjust="spacingAndGlyphs">R/V1900m</text>
<text x="476" y="1248" textLength="67" lengthAdjust="spacingAndGlyphs">V2800m</text>
</g>
<text x="631" y="1130" font-size="14" textLength="99" lengthAdjust="spacingAndGlyphs">Not authorized</text>
<text x="655" y="1145" font-size="14" textLength="55" lengthAdjust="spacingAndGlyphs">at NIGHT</text>
<text x="579" y="1173" font-size="10" textLength="22" lengthAdjust="spacingAndGlyphs">Max</text>
<text x="579" y="1183" font-size="10" textLength="22" lengthAdjust="spacingAndGlyphs">Kts</text>
<text x="629" y="1183" font-size="11" textLength="43" lengthAdjust="spacingAndGlyphs">MDA(H)</text>
<g font-size="10">
<text x="580" y="1201">100</text><text x="580" y="1221">135</text><text x="580" y="1248">180</text><text x="580" y="1281">205</text>
</g>
<g font-size="21">
<text x="608" y="1204" textLength="46" lengthAdjust="spacingAndGlyphs">780′</text>
<text x="706" y="1204" textLength="72" lengthAdjust="spacingAndGlyphs">V2600m</text>
<text x="608" y="1224" textLength="46" lengthAdjust="spacingAndGlyphs">780′</text>
<text x="706" y="1224" textLength="72" lengthAdjust="spacingAndGlyphs">V2800m</text>
<text x="608" y="1252" textLength="46" lengthAdjust="spacingAndGlyphs">960′</text>
<text x="706" y="1252" textLength="72" lengthAdjust="spacingAndGlyphs">V3700m</text>
<text x="608" y="1285" textLength="46" lengthAdjust="spacingAndGlyphs">960′</text>
<text x="706" y="1285" textLength="72" lengthAdjust="spacingAndGlyphs">V4600m</text>
</g>
<g font-size="11">
<text x="662" y="1204" textLength="34" lengthAdjust="spacingAndGlyphs">(706′)</text>
<text x="662" y="1224" textLength="34" lengthAdjust="spacingAndGlyphs">(706′)</text>
<text x="662" y="1252" textLength="34" lengthAdjust="spacingAndGlyphs">(886′)</text>
<text x="662" y="1285" textLength="34" lengthAdjust="spacingAndGlyphs">(886′)</text>
</g>
<text transform="translate(20,1318) rotate(-90)" font-size="12" textLength="58" lengthAdjust="spacingAndGlyphs">PANS OPS</text>

<!-- FOOTER -->
<text x="23" y="1330" font-size="11" textLength="220" lengthAdjust="spacingAndGlyphs">CHANGES:   MSA, procedure, minimums.</text>
<text x="525" y="1330" font-size="11" textLength="251" lengthAdjust="spacingAndGlyphs">© JEPPESEN, 2014, 2023. ALL RIGHTS RESERVED.</text>
</svg>
</body></html>
